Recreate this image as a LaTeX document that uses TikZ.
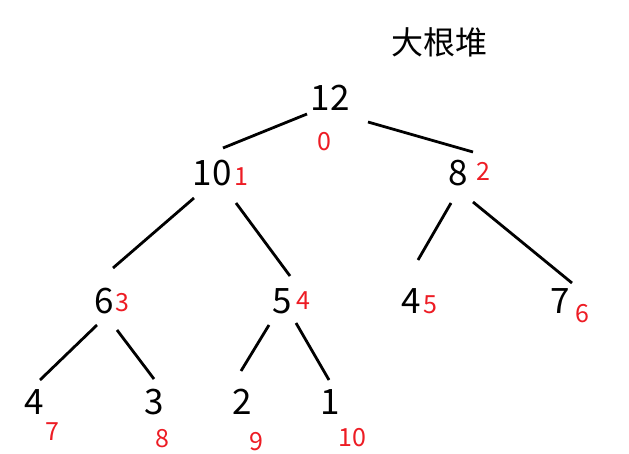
\documentclass[tikz,border=0pt]{standalone}
\usepackage{fontspec}
\setmainfont{Noto Sans CJK SC}
\definecolor{idxred}{RGB}{237,28,36}
\tikzset{
  val/.style={inner sep=0pt, anchor=base, font=\fontsize{35}{35}\selectfont, text=black},
  idx/.style={inner sep=0pt, anchor=base, font=\fontsize{25}{25}\selectfont, text=idxred},
  edge/.style={line width=2.8pt, black},
}
\begin{document}
\begin{tikzpicture}[x=1pt,y=-1pt]
\useasboundingbox (0,0) rectangle (629,454);
\node[inner sep=0pt, anchor=base, font=\fontsize{32}{32}\selectfont] (title) at (439,55) {大根堆};
% values
\node[val] (n12) at (330,111) {12};
\node[val] (n10) at (212,186) {10};
\node[val] (n8) at (458,186) {8};
\node[val] (n6) at (104,313) {6};
\node[val] (n5) at (282,313) {5};
\node[val] (n4b) at (411,313) {4};
\node[val] (n7) at (560,313) {7};
\node[val] (n4) at (34,414) {4};
\node[val] (n3) at (154,414) {3};
\node[val] (n2) at (242,414) {2};
\node[val] (n1) at (330,414) {1};
% indices
\node[idx] (i0) at (324,151) {0};
\node[idx] (i1) at (241,186) {1};
\node[idx] (i2) at (483,181) {2};
\node[idx] (i3) at (122,312) {3};
\node[idx] (i4) at (303,309) {4};
\node[idx] (i5) at (430,313) {5};
\node[idx] (i6) at (582,323) {6};
\node[idx] (i7) at (52,440) {7};
\node[idx] (i8) at (162,447) {8};
\node[idx] (i9) at (256,450) {9};
\node[idx] (i10) at (352,446) {10};
% edges
\draw[edge] ([shift={(-23,3)}]n12.base) -- ([shift={(11,-38)}]n10.base);
\draw[edge] ([shift={(38,11)}]n12.base) -- ([shift={(15,-34)}]n8.base);
\draw[edge] ([shift={(-18,12)}]n10.base) -- ([shift={(9,-45)}]n6.base);
\draw[edge] ([shift={(24,17)}]n10.base) -- ([shift={(8,-37)}]n5.base);
\draw[edge] ([shift={(-7,17)}]n8.base) -- ([shift={(7,-53)}]n4b.base);
\draw[edge] ([shift={(15,16)}]n8.base) -- ([shift={(12,-30)}]n7.base);
\draw[edge] ([shift={(-7,12)}]n6.base) -- ([shift={(6,-34)}]n4.base);
\draw[edge] ([shift={(13,17)}]n6.base) -- ([shift={(0,-35)}]n3.base);
\draw[edge] ([shift={(-13,12)}]n5.base) -- ([shift={(-1,-43)}]n2.base);
\draw[edge] ([shift={(14,10)}]n5.base) -- ([shift={(-1,-34)}]n1.base);
\end{tikzpicture}
\end{document}
